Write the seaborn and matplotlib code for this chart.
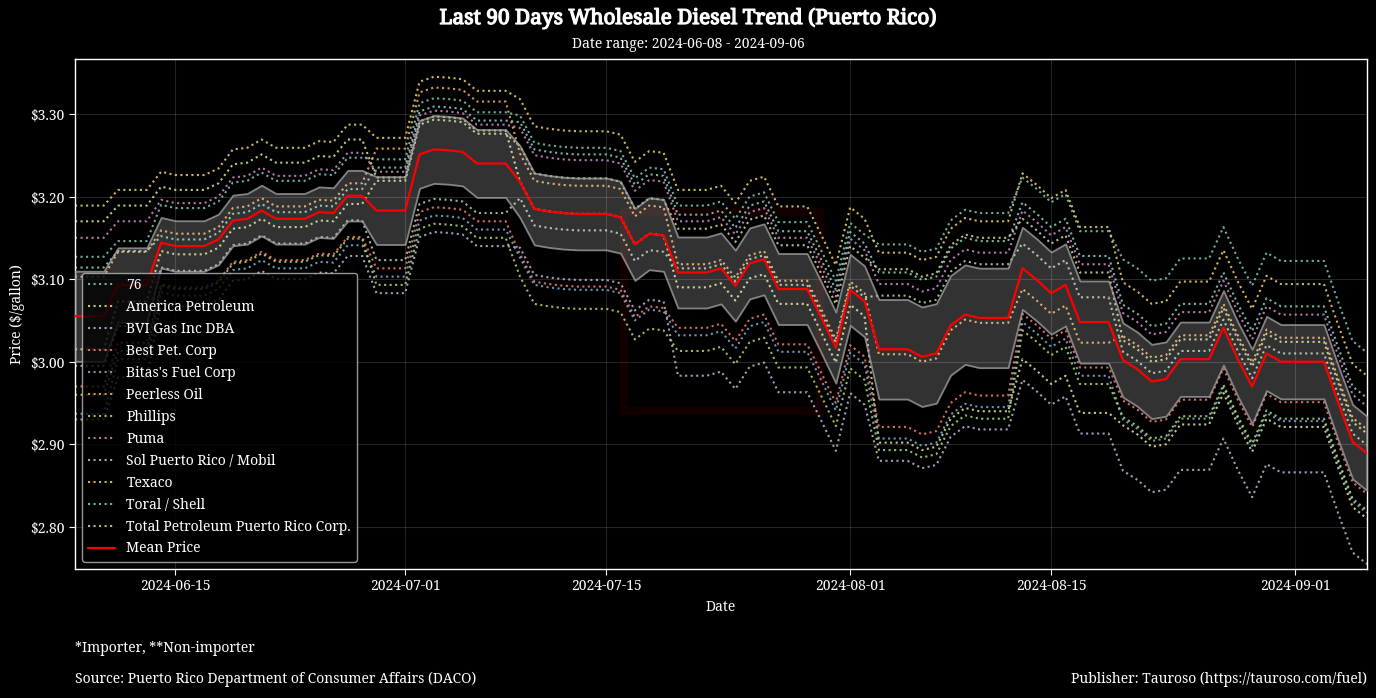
import numpy as np
import pandas as pd
import matplotlib
matplotlib.use("Agg")
import matplotlib.pyplot as plt
import matplotlib.dates as mdates
import matplotlib.ticker as mticker
import matplotlib.patheffects as pe
from matplotlib.patches import Rectangle
import seaborn as sns

start_date = "2024-06-08"
end_date = "2024-09-06"
dates = pd.date_range(start_date, end_date, freq="D")

stations = ["76", "America Petroleum", "BVI Gas Inc DBA", "Best Pet. Corp",
            "Bitas's Fuel Corp", "Peerless Oil", "Phillips", "Puma",
            "Sol Puerto Rico / Mobil", "Texaco", "Toral / Shell",
            "Total Petroleum Puerto Rico Corp."]

p_76 = [3.127, 3.127, 3.127, 3.146, 3.146, 3.146,
        3.190, 3.186, 3.186, 3.186, 3.194, 3.217, 3.219, 3.229, 3.219, 3.219, 3.219, 3.227, 3.226, 3.247, 3.247,
        3.245, 3.245, 3.245, 3.313, 3.319, 3.318, 3.316, 3.302, 3.302, 3.302,
        3.298, 3.265, 3.262, 3.260, 3.259, 3.259, 3.259, 3.255, 3.222, 3.235, 3.233,
        3.189, 3.189, 3.189, 3.194, 3.173, 3.200, 3.205, 3.169, 3.169, 3.169, 3.134, 3.098, 3.168, 3.154,
        3.142, 3.142, 3.142, 3.133, 3.137, 3.171, 3.184, 3.180, 3.180, 3.180,
        3.223, 3.209, 3.193, 3.203, 3.158, 3.158, 3.158,
        3.124, 3.113, 3.098, 3.101, 3.125, 3.125, 3.125, 3.163, 3.125, 3.092, 3.132, 3.122, 3.122, 3.122, 3.122, 3.072, 3.025, 3.011]

p_america = [3.170, 3.170, 3.170, 3.189, 3.189, 3.189,
             3.212, 3.208, 3.208, 3.208, 3.216, 3.239, 3.241, 3.251, 3.241, 3.241, 3.241, 3.249, 3.248, 3.269, 3.269,
             3.223, 3.223, 3.223, 3.291, 3.297, 3.296, 3.294, 3.280, 3.280, 3.280,
             3.218, 3.185, 3.182, 3.180, 3.179, 3.179, 3.179, 3.175, 3.142, 3.155, 3.153,
             3.090, 3.090, 3.090, 3.095, 3.074, 3.101, 3.106, 3.070, 3.070, 3.070, 3.035, 2.999, 3.069, 3.055,
             2.902, 2.902, 2.902, 2.893, 2.897, 2.931, 2.944, 2.940, 2.940, 2.940,
             3.003, 2.989, 2.973, 2.983, 2.938, 2.938, 2.938,
             2.923, 2.912, 2.897, 2.900, 2.924, 2.924, 2.924, 2.962, 2.924, 2.891, 2.931, 2.921, 2.921, 2.921, 2.921, 2.871, 2.824, 2.810]

p_bvi = [2.930, 2.930, 2.930, 2.981, 2.981, 2.981,
         3.071, 3.067, 3.067, 3.067, 3.075, 3.098, 3.100, 3.110, 3.100, 3.100, 3.100, 3.108, 3.107, 3.128, 3.128,
         3.083, 3.083, 3.083, 3.151, 3.157, 3.156, 3.154, 3.140, 3.140, 3.140,
         3.138, 3.105, 3.102, 3.100, 3.099, 3.099, 3.099, 3.095, 3.062, 3.075, 3.073,
         2.983, 2.983, 2.983, 2.988, 2.967, 2.994, 2.999, 2.963, 2.963, 2.963, 2.928, 2.892, 2.962, 2.948,
         2.880, 2.880, 2.880, 2.871, 2.875, 2.909, 2.922, 2.918, 2.918, 2.918,
         2.978, 2.964, 2.948, 2.958, 2.913, 2.913, 2.913,
         2.868, 2.857, 2.842, 2.845, 2.869, 2.869, 2.869, 2.907, 2.869, 2.836, 2.876, 2.866, 2.866, 2.866, 2.866, 2.816, 2.769, 2.755]

p_best = [2.970, 2.970, 2.970, 3.023, 3.023, 3.023,
          3.094, 3.090, 3.090, 3.090, 3.098, 3.121, 3.123, 3.133, 3.123, 3.123, 3.123, 3.131, 3.130, 3.151, 3.151,
          3.113, 3.113, 3.113, 3.181, 3.187, 3.186, 3.184, 3.170, 3.170, 3.170,
          3.130, 3.097, 3.094, 3.092, 3.091, 3.091, 3.091, 3.087, 3.054, 3.067, 3.065,
          3.041, 3.041, 3.041, 3.046, 3.025, 3.052, 3.057, 3.021, 3.021, 3.021, 2.986, 2.950, 3.020, 3.006,
          2.921, 2.921, 2.921, 2.912, 2.916, 2.950, 2.963, 2.959, 2.959, 2.959,
          3.058, 3.044, 3.028, 3.038, 2.993, 2.993, 2.993,
          2.953, 2.942, 2.927, 2.930, 2.954, 2.954, 2.954, 2.992, 2.954, 2.921, 2.961, 2.951, 2.951, 2.951, 2.951, 2.901, 2.854, 2.840]

p_bitas = [2.937, 2.937, 2.937, 3.003, 3.003, 3.003,
           3.084, 3.080, 3.080, 3.080, 3.088, 3.111, 3.113, 3.123, 3.113, 3.113, 3.113, 3.121, 3.120, 3.141, 3.141,
           3.103, 3.103, 3.103, 3.171, 3.177, 3.176, 3.174, 3.160, 3.160, 3.160,
           3.126, 3.093, 3.090, 3.088, 3.087, 3.087, 3.087, 3.083, 3.050, 3.063, 3.061,
           3.032, 3.032, 3.032, 3.037, 3.016, 3.043, 3.048, 3.012, 3.012, 3.012, 2.977, 2.941, 3.011, 2.997,
           2.907, 2.907, 2.907, 2.898, 2.902, 2.936, 2.949, 2.945, 2.945, 2.945,
           3.048, 3.034, 3.018, 3.028, 2.983, 2.983, 2.983,
           2.930, 2.919, 2.904, 2.907, 2.931, 2.931, 2.931, 2.969, 2.931, 2.898, 2.938, 2.928, 2.928, 2.928, 2.928, 2.878, 2.831, 2.817]

p_peerless = [3.103, 3.103, 3.103, 3.133, 3.133, 3.133,
              3.159, 3.155, 3.155, 3.155, 3.163, 3.186, 3.188, 3.198, 3.188, 3.188, 3.188, 3.196, 3.195, 3.216, 3.216,
              3.258, 3.258, 3.258, 3.326, 3.332, 3.331, 3.329, 3.315, 3.315, 3.315,
              3.252, 3.219, 3.216, 3.214, 3.213, 3.213, 3.213, 3.209, 3.176, 3.189, 3.187,
              3.118, 3.118, 3.118, 3.123, 3.102, 3.129, 3.134, 3.098, 3.098, 3.098, 3.063, 3.027, 3.097, 3.083,
              3.009, 3.009, 3.009, 3.000, 3.004, 3.038, 3.051, 3.047, 3.047, 3.047,
              3.088, 3.074, 3.058, 3.068, 3.023, 3.023, 3.023,
              3.031, 3.020, 3.005, 3.008, 3.032, 3.032, 3.032, 3.070, 3.032, 2.999, 3.039, 3.029, 3.029, 3.029, 3.029, 2.979, 2.932, 2.918]

p_phillips = [2.960, 2.960, 2.960, 3.013, 3.013, 3.013,
              3.092, 3.088, 3.088, 3.088, 3.096, 3.119, 3.121, 3.131, 3.121, 3.121, 3.121, 3.129, 3.128, 3.149, 3.149,
              3.093, 3.093, 3.093, 3.161, 3.167, 3.166, 3.164, 3.150, 3.150, 3.150,
              3.103, 3.070, 3.067, 3.065, 3.064, 3.064, 3.064, 3.060, 3.027, 3.040, 3.038,
              3.013, 3.013, 3.013, 3.018, 2.997, 3.024, 3.029, 2.993, 2.993, 2.993, 2.958, 2.922, 2.992, 2.978,
              2.893, 2.893, 2.893, 2.884, 2.888, 2.922, 2.935, 2.931, 2.931, 2.931,
              3.038, 3.024, 3.008, 3.018, 2.973, 2.973, 2.973,
              2.933, 2.922, 2.907, 2.910, 2.934, 2.934, 2.934, 2.972, 2.934, 2.901, 2.941, 2.931, 2.931, 2.931, 2.931, 2.881, 2.834, 2.820]

p_puma = [3.150, 3.150, 3.150, 3.170, 3.170, 3.170,
          3.196, 3.192, 3.192, 3.192, 3.200, 3.223, 3.225, 3.235, 3.225, 3.225, 3.225, 3.233, 3.232, 3.253, 3.253,
          3.230, 3.230, 3.230, 3.298, 3.304, 3.303, 3.301, 3.287, 3.287, 3.287,
          3.283, 3.250, 3.247, 3.245, 3.244, 3.244, 3.244, 3.240, 3.207, 3.220, 3.218,
          3.170, 3.170, 3.170, 3.175, 3.154, 3.181, 3.186, 3.150, 3.150, 3.150, 3.115, 3.079, 3.149, 3.135,
          3.094, 3.094, 3.094, 3.085, 3.089, 3.123, 3.136, 3.132, 3.132, 3.132,
          3.183, 3.169, 3.153, 3.163, 3.118, 3.118, 3.118,
          3.059, 3.048, 3.033, 3.036, 3.060, 3.060, 3.060, 3.098, 3.060, 3.027, 3.067, 3.057, 3.057, 3.057, 3.057, 3.007, 2.960, 2.946]

p_sol = [2.995, 2.995, 2.995, 3.043, 3.043, 3.043,
         3.114, 3.110, 3.110, 3.110, 3.118, 3.141, 3.143, 3.153, 3.143, 3.143, 3.143, 3.151, 3.150, 3.171, 3.171,
         3.123, 3.123, 3.123, 3.191, 3.197, 3.196, 3.194, 3.180, 3.180, 3.180,
         3.198, 3.165, 3.162, 3.160, 3.159, 3.159, 3.159, 3.155, 3.122, 3.135, 3.133,
         3.113, 3.113, 3.113, 3.118, 3.097, 3.124, 3.129, 3.093, 3.093, 3.093, 3.058, 3.022, 3.092, 3.078,
         3.080, 3.080, 3.080, 3.071, 3.075, 3.109, 3.122, 3.118, 3.118, 3.118,
         3.143, 3.129, 3.113, 3.123, 3.078, 3.078, 3.078,
         3.012, 3.001, 2.986, 2.989, 3.013, 3.013, 3.013, 3.051, 3.013, 2.980, 3.020, 3.010, 3.010, 3.010, 3.010, 2.960, 2.913, 2.899]

p_texaco = [3.189, 3.189, 3.189, 3.208, 3.208, 3.208,
            3.230, 3.226, 3.226, 3.226, 3.234, 3.257, 3.259, 3.269, 3.259, 3.259, 3.259, 3.267, 3.266, 3.287, 3.287,
            3.271, 3.271, 3.271, 3.339, 3.345, 3.344, 3.342, 3.328, 3.328, 3.328,
            3.318, 3.285, 3.282, 3.280, 3.279, 3.279, 3.279, 3.275, 3.242, 3.255, 3.253,
            3.208, 3.208, 3.208, 3.213, 3.192, 3.219, 3.224, 3.188, 3.188, 3.188, 3.153, 3.117, 3.187, 3.173,
            3.132, 3.132, 3.132, 3.123, 3.127, 3.161, 3.174, 3.170, 3.170, 3.170,
            3.228, 3.214, 3.198, 3.208, 3.163, 3.163, 3.163,
            3.096, 3.085, 3.070, 3.073, 3.097, 3.097, 3.097, 3.135, 3.097, 3.064, 3.104, 3.094, 3.094, 3.094, 3.094, 3.044, 2.997, 2.983]

p_toral = [3.114, 3.114, 3.114, 3.134, 3.134, 3.134,
           3.152, 3.148, 3.148, 3.148, 3.156, 3.179, 3.181, 3.191, 3.181, 3.181, 3.181, 3.189, 3.188, 3.209, 3.209,
           3.235, 3.235, 3.235, 3.303, 3.309, 3.308, 3.306, 3.292, 3.292, 3.292,
           3.290, 3.257, 3.254, 3.252, 3.251, 3.251, 3.251, 3.247, 3.214, 3.227, 3.225,
           3.178, 3.178, 3.178, 3.183, 3.162, 3.189, 3.194, 3.158, 3.158, 3.158, 3.123, 3.087, 3.157, 3.143,
           3.108, 3.108, 3.108, 3.099, 3.103, 3.137, 3.150, 3.146, 3.146, 3.146,
           3.193, 3.179, 3.163, 3.173, 3.128, 3.128, 3.128,
           3.069, 3.058, 3.043, 3.046, 3.070, 3.070, 3.070, 3.108, 3.070, 3.037, 3.077, 3.067, 3.067, 3.067, 3.067, 3.017, 2.970, 2.956]

p_total = [3.015, 3.015, 3.015, 3.073, 3.073, 3.073,
           3.134, 3.130, 3.130, 3.130, 3.138, 3.161, 3.163, 3.173, 3.163, 3.163, 3.163, 3.171, 3.170, 3.191, 3.191,
           3.219, 3.219, 3.219, 3.287, 3.293, 3.292, 3.290, 3.276, 3.276, 3.276,
           3.261, 3.228, 3.225, 3.223, 3.222, 3.222, 3.222, 3.218, 3.185, 3.198, 3.196,
           3.161, 3.161, 3.161, 3.166, 3.145, 3.172, 3.177, 3.141, 3.141, 3.141, 3.106, 3.070, 3.140, 3.126,
           3.112, 3.112, 3.112, 3.103, 3.107, 3.141, 3.154, 3.150, 3.150, 3.150,
           3.173, 3.159, 3.143, 3.153, 3.108, 3.108, 3.108,
           3.026, 3.015, 3.000, 3.003, 3.027, 3.027, 3.027, 3.065, 3.027, 2.994, 3.034, 3.024, 3.024, 3.024, 3.024, 2.974, 2.927, 2.913]

series_values = [p_76, p_america, p_bvi, p_best, p_bitas, p_peerless, p_phillips,
                 p_puma, p_sol, p_texaco, p_toral, p_total]

line_colors = ["#7fcdbb", "#e6e6a0", "#bebada", "#fb8072", "#80b1d3", "#fdb462",
               "#b3de69", "#d38fd0", "#b9d3b0", "#f2d66b", "#8dd3c7", "#d6de96"]

title_text = "Last 90 Days Wholesale Diesel Trend (Puerto Rico)"
subtitle_text = f"Date range: {start_date} - {end_date}"
note_text = "*Importer, **Non-importer"
source_text = "Source: Puerto Rico Department of Consumer Affairs (DACO)"
publisher_text = "Publisher: Tauroso (https://tauroso.com/fuel)"

# ---------------------------------------------------------------------------
prices = pd.DataFrame({name: vals for name, vals in zip(stations, series_values)}, index=dates)
mean_price = prices.mean(axis=1)
ci = 1.96 * prices.std(axis=1) / np.sqrt(prices.count(axis=1))

sns.set_theme(style="dark")
plt.rcParams["font.family"] = ["Noto Serif", "DejaVu Serif"]
plt.rcParams["axes.unicode_minus"] = False

W, H = 1376, 698
fig = plt.figure(figsize=(W / 100, H / 100), dpi=100, facecolor="black")
ax = fig.add_axes([75 / W, 1 - 569 / H, (1367 - 75) / W, (569 - 59) / H])
ax.set_facecolor("black")

for name, col in zip(stations, line_colors):
    sns.lineplot(x=prices.index, y=prices[name].values, ax=ax, color=col,
                 linestyle=":", linewidth=1.5, alpha=0.85, label=name, zorder=2)

ax.fill_between(prices.index, mean_price - ci, mean_price + ci,
                facecolor=(1, 1, 1, 0.2), edgecolor=(0.62, 0.62, 0.62, 0.8),
                linewidth=1.3, zorder=3)
sns.lineplot(x=prices.index, y=mean_price.values, ax=ax, color="red",
             linewidth=1.6, label="Mean Price", zorder=4)

# faint watermark logo
ax.add_patch(Rectangle((0.425, 0.31), 0.152, 0.39, transform=ax.transAxes,
                       fill=False, edgecolor=(0.6, 0.0, 0.0, 0.12), linewidth=6, zorder=1))

ax.set_xlim(dates[0], dates[-1])
ax.set_ylim(2.749, 3.3665)
ax.xaxis.set_major_locator(mdates.DayLocator(bymonthday=[1, 15]))
ax.xaxis.set_major_formatter(mdates.DateFormatter("%Y-%m-%d"))
ax.yaxis.set_major_locator(mticker.MultipleLocator(0.10))
ax.yaxis.set_major_formatter(mticker.FuncFormatter(lambda v, p: f"${v:.2f}"))

ax.grid(True, color="white", alpha=0.15, linewidth=0.8)
for sp in ax.spines.values():
    sp.set_color("white")
    sp.set_linewidth(1.0)
ax.tick_params(colors="white", labelsize=10, length=4, width=0.8, bottom=True, left=True)

ax.set_xlabel("Date", color="white", fontsize=10, labelpad=4)
ax.set_ylabel("Price ($/gallon)", color="white", fontsize=10, labelpad=4)

leg = ax.legend(loc="lower left", fontsize=10, frameon=True, facecolor="black",
                edgecolor="#bbbbbb", framealpha=0.8, labelcolor="white")
leg.set_zorder(10)

title = fig.text(0.5, 1 - 18 / H, title_text, ha="center", va="center", color="white",
                 fontsize=15, fontweight="bold")
title.set_path_effects([pe.Stroke(linewidth=0.9, foreground="white"), pe.Normal()])
fig.text(0.5, 1 - 45 / H, subtitle_text, ha="center", va="center", color="white", fontsize=10)
fig.text(75 / W, 1 - 648 / H, note_text, ha="left", va="center", color="white", fontsize=10)
fig.text(75 / W, 1 - 679 / H, source_text, ha="left", va="center", color="white", fontsize=10)
fig.text(1367 / W, 1 - 679 / H, publisher_text, ha="right", va="center", color="white", fontsize=10)

fig.savefig("out.png", dpi=100, facecolor="black")
